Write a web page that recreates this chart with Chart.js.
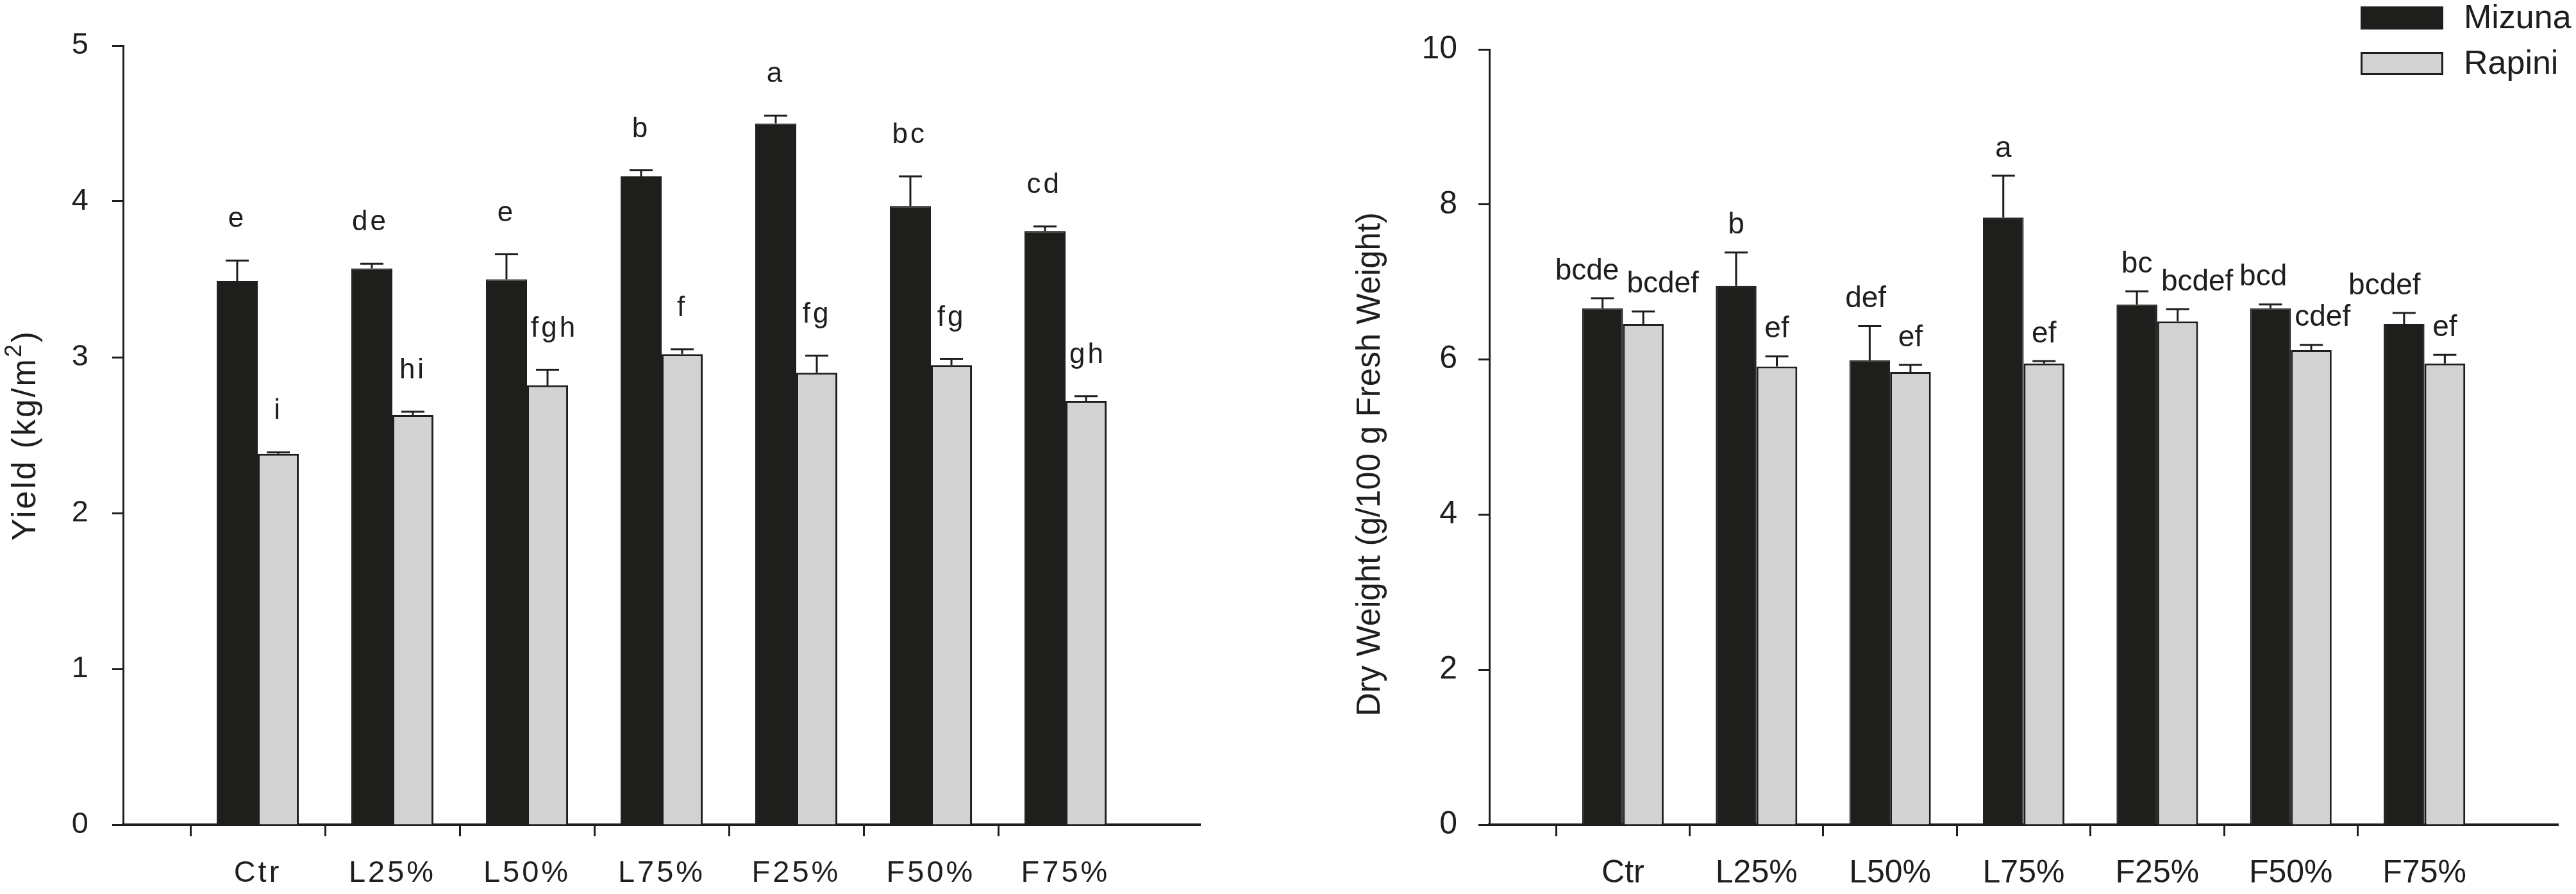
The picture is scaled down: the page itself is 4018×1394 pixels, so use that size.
<!DOCTYPE html>
<html><head><meta charset="utf-8">
<script src="https://cdn.jsdelivr.net/npm/chart.js@4.4.1/dist/chart.umd.min.js"></script>
<style>
html,body{margin:0;padding:0;background:#fff;width:4018px;height:1394px;overflow:hidden;}
canvas{position:absolute;top:0;}
#c1{left:0;}
#c2{left:2000px;}
</style></head><body>
<canvas id="c1" width="2000" height="1394"></canvas>
<canvas id="c2" width="2018" height="1394"></canvas>
<script>
// ---------- data ----------
const categories = ['Ctr', 'L25%', 'L50%', 'L75%', 'F25%', 'F50%', 'F75%'];
const seriesNames = ['Mizuna', 'Rapini'];

const yieldMizuna    = [3.49, 3.57, 3.50, 4.16, 4.50, 3.97, 3.81];
const yieldMizunaErr = [0.13, 0.03, 0.16, 0.04, 0.05, 0.19, 0.03];
const yieldRapini    = [2.38, 2.63, 2.82, 3.02, 2.90, 2.95, 2.72];
const yieldRapiniErr = [0.01, 0.02, 0.10, 0.03, 0.11, 0.04, 0.03];
const yieldMizunaLetters = ['e', 'de', 'e', 'b', 'a', 'bc', 'cd'];
const yieldRapiniLetters = ['i', 'hi', 'fgh', 'f', 'fg', 'fg', 'gh'];
const yieldTicks = [0, 1, 2, 3, 4, 5];
const yieldTitleParts = ['Yield (kg/m', '2', ')'];   // base, superscript, base

const dryMizuna    = [6.66, 6.95, 5.99, 7.83, 6.71, 6.66, 6.46];
const dryMizunaErr = [0.13, 0.43, 0.44, 0.54, 0.17, 0.05, 0.14];
const dryRapini    = [6.46, 5.91, 5.84, 5.95, 6.49, 6.12, 5.95];
const dryRapiniErr = [0.16, 0.13, 0.09, 0.03, 0.16, 0.07, 0.11];
const dryMizunaLetters = ['bcde', 'b', 'def', 'a', 'bc', 'bcd', 'bcdef'];
const dryRapiniLetters = ['bcdef', 'ef', 'ef', 'ef', 'bcdef', 'cdef', 'ef'];
const dryTicks = [0, 2, 4, 6, 8, 10];
const dryTitle = 'Dry Weight (g/100 g Fresh Weight)';

// ---------- style ----------
const INK = '#1e1e1c';
const DARK = '#1e1e1c';
const LIGHT = '#d2d2d2';
const FONT = "'Liberation Sans', Arial, Helvetica, sans-serif";

const padded = arr => [null, ...arr, null];
const axisLabels = ['', ...categories, ''];

function annotPlugin(errs, letters, cfg) {
  return {
    id: 'annot',
    beforeUpdate(chart) { chart.ctx.letterSpacing = cfg.spacing; },
    beforeDraw(chart) { chart.ctx.letterSpacing = cfg.spacing; },
    afterDraw(chart) {
      if (!cfg.titleParts) return;
      const ctx = chart.ctx;
      const y = chart.scales.y;
      ctx.save();
      ctx.letterSpacing = cfg.titleSpacing;
      ctx.fillStyle = INK;
      ctx.textAlign = 'left';
      ctx.textBaseline = 'alphabetic';
      const big = cfg.titleSize + 'px ' + FONT;
      const small = cfg.supSize + 'px ' + FONT;
      const fonts = [big, small, big];
      const widths = cfg.titleParts.map((t, i) => { ctx.font = fonts[i]; return ctx.measureText(t).width; });
      const total = widths.reduce((a, b) => a + b, 0);
      ctx.translate(cfg.titleBaseX, (y.top + y.bottom) / 2);
      ctx.rotate(-Math.PI / 2);
      let x = -total / 2;
      cfg.titleParts.forEach((t, i) => {
        ctx.font = fonts[i];
        ctx.fillText(t, x, i === 1 ? -cfg.supRaise : 0);
        x += widths[i];
      });
      ctx.restore();
    },
    afterDatasetsDraw(chart) {
      const ctx = chart.ctx;
      const yScale = chart.scales.y;
      ctx.save();
      ctx.letterSpacing = cfg.spacing;
      chart.data.datasets.forEach((ds, i) => {
        const meta = chart.getDatasetMeta(i);
        meta.data.forEach((el, j) => {
          const v = ds.data[j];
          if (v === null || v === undefined) return;
          const k = j - 1;
          const top = yScale.getPixelForValue(v + errs[i][k]);
          ctx.strokeStyle = INK;
          ctx.lineWidth = 3;
          ctx.beginPath();
          ctx.moveTo(el.x, el.y);
          ctx.lineTo(el.x, top);
          ctx.moveTo(el.x - 18, top);
          ctx.lineTo(el.x + 18, top);
          ctx.stroke();
          ctx.font = cfg.font;
          ctx.fillStyle = INK;
          ctx.textAlign = 'center';
          ctx.textBaseline = 'middle';
          const txt = letters[i][k];
          const tw = ctx.measureText(txt).width;
          let x = el.x;
          if (i === 0) x = Math.min(el.x, el.x + el.width / 2 - tw / 2 - 6);
          else x = Math.max(el.x, el.x - el.width / 2 + tw / 2 + 6);
          ctx.fillText(txt, x, top - cfg.offset);
        });
      });
      ctx.restore();
    }
  };
}

const legendPlugin = {
  id: 'manualLegend',
  afterDraw(chart) {
    const ctx = chart.ctx;
    ctx.save();
    chart.data.datasets.forEach((ds, i) => {
      const y0 = 10 + i * 71;
      ctx.fillStyle = ds.backgroundColor;
      ctx.fillRect(1682, y0, 129, 36);
      ctx.strokeStyle = INK;
      ctx.lineWidth = 3;
      ctx.strokeRect(1683.5, y0 + 1.5, 126, 33);
      ctx.fillStyle = INK;
      ctx.font = '52px ' + FONT;
      ctx.textAlign = 'left';
      ctx.textBaseline = 'middle';
      ctx.fillText(ds.label, 1843, y0 + 20);
    });
    ctx.restore();
  }
};

function makeChart(id, opts) {
  const datasets = [
    { label: seriesNames[0], data: padded(opts.a), backgroundColor: DARK, borderColor: INK, borderWidth: 2,
      categoryPercentage: 0.61, barPercentage: 1.0 },
    { label: seriesNames[1], data: padded(opts.b), backgroundColor: LIGHT, borderColor: INK, borderWidth: 3,
      categoryPercentage: 0.61, barPercentage: 1.0 }
  ];
  const plugins = [annotPlugin(opts.errs, opts.letters, opts.annot)];
  if (opts.legend) plugins.push(legendPlugin);
  return new Chart(document.getElementById(id), {
    type: 'bar',
    data: { labels: axisLabels, datasets },
    plugins,
    options: {
      responsive: false,
      animation: false,
      devicePixelRatio: 1,
      layout: { padding: { top: opts.top, right: opts.right, left: 0, bottom: 0 } },
      plugins: { legend: { display: false }, tooltip: { enabled: false } },
      scales: {
        x: {
          offset: false,
          grid: {
            drawOnChartArea: false, drawTicks: true, tickLength: 18, tickWidth: 3,
            tickColor: c => (c.index >= 1 && c.index <= categories.length) ? INK : 'rgba(0,0,0,0)'
          },
          border: { display: true, color: INK, width: 4 },
          ticks: { autoSkip: false, maxRotation: 0, minRotation: 0, color: INK, padding: opts.xPad,
                   font: { family: FONT, size: opts.tickSize } },
          afterFit: s => { s.height = 1394 - opts.bottom; }
        },
        y: {
          min: opts.ticks[0], max: opts.ticks[opts.ticks.length - 1],
          afterBuildTicks: s => { s.ticks = opts.ticks.map(v => ({ value: v })); },
          grid: { drawOnChartArea: false, drawTicks: true, tickLength: 17, tickWidth: 3, tickColor: INK },
          border: { display: true, color: INK, width: 3 },
          ticks: { color: INK, padding: 33, font: { family: FONT, size: opts.tickSize } },
          title: { display: !!opts.title, text: opts.title || '', color: INK, padding: { top: opts.titlePad, bottom: 0 },
                   font: { family: FONT, size: opts.titleSize } },
          afterFit: s => { s.width = opts.left; }
        }
      }
    }
  });
}

makeChart('c1', {
  a: yieldMizuna, b: yieldRapini,
  errs: [yieldMizunaErr, yieldRapiniErr],
  letters: [yieldMizunaLetters, yieldRapiniLetters],
  annot: { font: '44px ' + FONT, offset: 64, spacing: '4px',
           titleParts: yieldTitleParts, titleSize: 51, supSize: 36, supRaise: 22,
           titleSpacing: '3px', titleBaseX: 55 },
  ticks: yieldTicks,
  top: 71, bottom: 1286, left: 192, right: 2000 - 1872,
  tickSize: 47, xPad: 30,
  title: null, titleSize: 52, titlePad: 9,
  legend: false
});

makeChart('c2', {
  a: dryMizuna, b: dryRapini,
  errs: [dryMizunaErr, dryRapiniErr],
  letters: [dryMizunaLetters, dryRapiniLetters],
  annot: { font: '46px ' + FONT, offset: 42, spacing: '0px' },
  ticks: dryTicks,
  top: 77, bottom: 1286, left: 323, right: 2018 - 2002,
  tickSize: 50, xPad: 28,
  title: dryTitle + '\u00A0\u00A0\u00A0\u00A0\u00A0\u00A0', titleSize: 51, titlePad: 107,
  legend: true
});
</script>
</body></html>
